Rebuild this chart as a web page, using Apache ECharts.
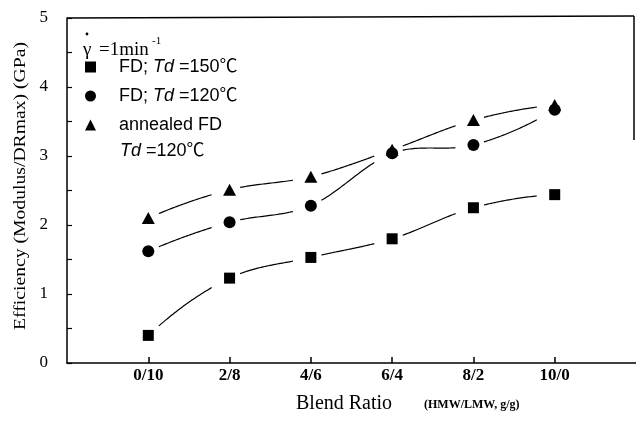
<!DOCTYPE html>
<html>
<head>
<meta charset="utf-8">
<script src="https://cdn.jsdelivr.net/npm/echarts@6/dist/echarts.min.js"></script>
<style>
html,body{margin:0;padding:0;background:#fff;}
#chart{width:636px;height:423px;}
</style>
</head>
<body>
<div id="chart"></div>
<script>
// ---- data ----
const categories = ['0/10', '2/8', '4/6', '6/4', '8/2', '10/0'];
const fd150 = [0.40, 1.23, 1.53, 1.80, 2.25, 2.44];
const fd120 = [1.62, 2.04, 2.28, 3.04, 3.16, 3.67];
const annealed = [2.10, 2.51, 2.70, 3.09, 3.52, 3.74];
const yTicks = [0, 1, 2, 3, 4, 5];
const seriesNames = ['FD; Td =150℃', 'FD; Td =120℃', 'annealed FD'];

const SERIF = '"Liberation Serif", "Times New Roman", serif';
const SANS = '"Liberation Sans", Arial, "Noto Sans CJK SC", sans-serif';

const chart = echarts.init(document.getElementById('chart'), null, {renderer: 'canvas'});

// spline segment renderer with gaps near markers (as in the original)
function segRenderer(vals, t0, t1) {
  return function (params, api) {
    const i = api.value(0);
    const P = vals.map((v, k) => api.coord([k, v]));
    const n = P.length - 1;
    const m = [];
    for (let k = 1; k < n; k++) m[k] = [(P[k + 1][0] - P[k - 1][0]) / 2, (P[k + 1][1] - P[k - 1][1]) / 2];
    m[0] = [2 * (P[1][0] - P[0][0]) - m[1][0], 2 * (P[1][1] - P[0][1]) - m[1][1]];
    m[n] = [2 * (P[n][0] - P[n - 1][0]) - m[n - 1][0], 2 * (P[n][1] - P[n - 1][1]) - m[n - 1][1]];
    const a = P[i], b = P[i + 1], ma = m[i], mb = m[i + 1];
    const pts = [];
    const N = 30;
    for (let s = 0; s <= N; s++) {
      const t = t0 + (t1 - t0) * s / N;
      const t2 = t * t, t3 = t2 * t;
      const h00 = 2 * t3 - 3 * t2 + 1, h10 = t3 - 2 * t2 + t, h01 = -2 * t3 + 3 * t2, h11 = t3 - t2;
      pts.push([
        h00 * a[0] + h10 * ma[0] + h01 * b[0] + h11 * mb[0],
        h00 * a[1] + h10 * ma[1] + h01 * b[1] + h11 * mb[1]
      ]);
    }
    return {type: 'polyline', shape: {points: pts}, style: {stroke: '#000', lineWidth: 1.2, fill: 'none'}};
  };
}
function segData(vals) { return vals.slice(0, -1).map((v, i) => [i, v]); }
function ptData(vals) { return vals.map((v, i) => [i, v]); }

// y-axis title stretched to match original length
const mctx = document.createElement('canvas').getContext('2d');
mctx.font = '16px ' + SERIF;
const yTitle = 'Efficiency (Modulus/DRmax) (GPa)';
const yTitleW = mctx.measureText(yTitle).width;
const yTitleScale = 288 / yTitleW;

const richBase = {
  n: {fontFamily: SANS, fontSize: 18, color: '#000'},
  p: {fontFamily: SANS, fontSize: 18, color: '#000', padding: [0, 0, 0, 18]},
  i: {fontFamily: SANS, fontSize: 18, color: '#000', fontStyle: 'italic'}
};

const option = {
  backgroundColor: '#fff',
  animation: false,
  grid: {left: 67, right: 0, top: 18, bottom: 60},
  xAxis: {
    type: 'value', min: -1, max: 6, interval: 1,
    axisLine: {show: true, onZero: false, lineStyle: {color: '#000', width: 1.5}},
    axisTick: {show: true, inside: true, length: 6, customValues: categories.map((c, i) => i), lineStyle: {color: '#000', width: 1.5}},
    axisLabel: {
      customValues: categories.map((c, i) => i),
      formatter: v => categories[Math.round(v)] || '',
      fontFamily: SERIF, fontWeight: 'bold', fontSize: 17, color: '#000', margin: 4
    },
    splitLine: {show: false}
  },
  yAxis: {
    type: 'value', min: 0, max: 5, interval: 1,
    axisLine: {show: true, onZero: false, lineStyle: {color: '#000', width: 1.5}},
    axisTick: {show: true, inside: true, length: 5, lineStyle: {color: '#000', width: 1.2}},
    minorTick: {show: true, splitNumber: 2, length: 5, lineStyle: {color: '#000', width: 1.2}},
    axisLabel: {
      customValues: yTicks,
      fontFamily: SERIF, fontSize: 17, color: '#000', margin: 19
    },
    splitLine: {show: false}
  },
  legend: {
    orient: 'vertical', left: 85, top: 58, itemGap: 11, padding: 0,
    itemWidth: 11, itemHeight: 11,
    data: seriesNames,
    formatter: name => {
      if (name === seriesNames[0]) return '{p|FD; }{i|Td}{n| =150℃}';
      if (name === seriesNames[1]) return '{p|FD; }{i|Td}{n| =120℃}';
      return '{p|annealed FD}';
    },
    textStyle: {fontFamily: SANS, fontSize: 18, color: '#000', rich: richBase},
    selectedMode: false
  },
  series: [
    {type: 'custom', name: 'l150', renderItem: segRenderer(fd150, 0.13, 0.78), data: segData(fd150), z: 2, silent: true},
    {type: 'custom', name: 'l120', renderItem: segRenderer(fd120, 0.13, 0.78), data: segData(fd120), z: 2, silent: true},
    {type: 'custom', name: 'lann', renderItem: segRenderer(annealed, 0.13, 0.78), data: segData(annealed), z: 2, silent: true},
    {type: 'scatter', name: seriesNames[0], symbol: 'rect', symbolSize: 11, itemStyle: {color: '#000', opacity: 1}, data: ptData(fd150), z: 3},
    {type: 'scatter', name: seriesNames[1], symbol: 'circle', symbolSize: 12, itemStyle: {color: '#000', opacity: 1}, data: ptData(fd120), z: 3},
    {type: 'scatter', name: seriesNames[2], symbol: 'triangle', symbolSize: [13, 12], itemStyle: {color: '#000', opacity: 1}, data: ptData(annealed), z: 3}
  ],
  graphic: [
    // frame top and partial right edge
    {type: 'line', shape: {x1: 67, y1: 18, x2: 634, y2: 16}, style: {stroke: '#000', lineWidth: 1.5}, z: 10},
    {type: 'line', shape: {x1: 634, y1: 16, x2: 634, y2: 140}, style: {stroke: '#000', lineWidth: 1.5}, z: 10},
    // shear-rate note
    {type: 'text', left: 83, top: 41, style: {text: 'γ', font: '19px ' + SERIF, fill: '#000'}},
    {type: 'circle', shape: {cx: 87, cy: 34, r: 1.4}, style: {fill: '#000'}},
    {type: 'text', left: 99, top: 41, style: {text: '=1min', font: '19px ' + SERIF, fill: '#000'}},
    {type: 'text', left: 152, top: 36, style: {text: '-1', font: '11px ' + SERIF, fill: '#000'}},
    {type: 'text', left: 120, top: 142, style: {
      text: '{i|Td}{n| =120℃}', rich: {
        i: {fontFamily: SANS, fontSize: 18, fontStyle: 'italic', fill: '#000'},
        n: {fontFamily: SANS, fontSize: 18, fill: '#000'}
      }}},
    // axis titles
    {type: 'text', x: 21, y: 186, rotation: Math.PI / 2, scaleX: yTitleScale,
      style: {text: yTitle, font: '16px ' + SERIF, fill: '#000', align: 'center', verticalAlign: 'middle'}},
    {type: 'text', left: 296, top: 394, style: {text: 'Blend Ratio', font: '20px ' + SERIF, fill: '#000'}},
    {type: 'text', left: 424, top: 399, style: {text: '(HMW/LMW, g/g)', font: 'bold 12px ' + SERIF, fill: '#000'}}
  ]
};
chart.setOption(option);
</script>
</body>
</html>
